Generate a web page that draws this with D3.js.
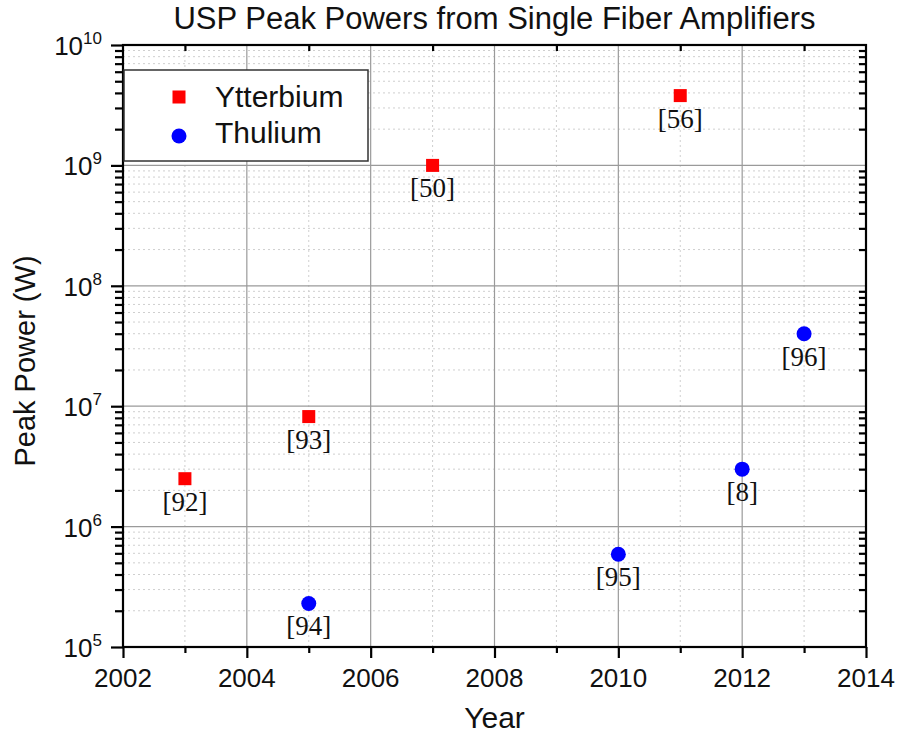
<!DOCTYPE html>
<html>
<head>
<meta charset="utf-8">
<script src="https://cdn.jsdelivr.net/npm/d3@7"></script>
<style>
  body { margin: 0; background: #fff; }
  text { font-family: "Liberation Sans", Arial, sans-serif; fill: #111; }
  .ref { font-family: "Liberation Serif", "Times New Roman", serif; }
</style>
</head>
<body>
<div id="chart"></div>
<script>
var width = 898,
  height = 734;

// data
var ybYears = [2003, 2005, 2007, 2011];
var ybPower = [2.5e6, 8.2e6, 1.0e9, 3.8e9];
var ybRefs = ["[92]", "[93]", "[50]", "[56]"];

var tmYears = [2005, 2010, 2012, 2013];
var tmPower = [2.3e5, 5.9e5, 3.0e6, 4.0e7];
var tmRefs = ["[94]", "[95]", "[8]", "[96]"];

var xTicks = [2002, 2004, 2006, 2008, 2010, 2012, 2014];
var yExps = [5, 6, 7, 8, 9, 10];

// plot box (top/left are window props, so other names)
var pL = 123, pR = 866, pT = 45, pB = 647;

var x = d3.scaleLinear().domain([2002, 2014]).range([pL, pR]);
var y = d3.scaleLog().domain([1e5, 1e10]).range([pB, pT]);

var svg = d3.select("#chart")
  .append("svg")
  .attr("width", width)
  .attr("height", height);

// minor values
var xMinor = d3.range(2003, 2014, 2);
var yMinor = [];
yExps.slice(0, -1).forEach(function (e) {
  for (var m = 2; m < 10; m++) yMinor.push(m * Math.pow(10, e));
});
var yMajor = yExps.map(function (e) { return Math.pow(10, e); });

// grid
var grid = svg.append("g");
grid.selectAll(".gxm").data(xMinor).enter().append("line")
  .attr("x1", x).attr("x2", x).attr("y1", pT).attr("y2", pB)
  .attr("stroke", "#cfcfcf").attr("stroke-width", 1).attr("stroke-dasharray", "2,3");
grid.selectAll(".gym").data(yMinor).enter().append("line")
  .attr("x1", pL).attr("x2", pR).attr("y1", y).attr("y2", y)
  .attr("stroke", "#cfcfcf").attr("stroke-width", 1).attr("stroke-dasharray", "2,3");
grid.selectAll(".gx").data(xTicks.slice(1, -1)).enter().append("line")
  .attr("x1", x).attr("x2", x).attr("y1", pT).attr("y2", pB)
  .attr("stroke", "#9a9a9a").attr("stroke-width", 1.2);
grid.selectAll(".gy").data(yMajor.slice(1, -1)).enter().append("line")
  .attr("x1", pL).attr("x2", pR).attr("y1", y).attr("y2", y)
  .attr("stroke", "#9a9a9a").attr("stroke-width", 1.2);

// axes with d3 axis generators
var bottomAxis = svg.append("g")
  .attr("transform", "translate(0," + pB + ")")
  .call(d3.axisBottom(x).tickValues(xTicks).tickSize(11).tickFormat(""));
bottomAxis.append("g")
  .call(d3.axisBottom(x).tickValues(xMinor).tickSize(6).tickFormat(""));

var leftAxis = svg.append("g")
  .attr("transform", "translate(" + pL + ",0)")
  .call(d3.axisLeft(y).tickValues(yMajor).tickSize(12).tickFormat(""));
leftAxis.append("g")
  .call(d3.axisLeft(y).tickValues(yMinor).tickSize(8).tickFormat(""));

svg.append("g")
  .attr("transform", "translate(0," + pT + ")")
  .call(d3.axisBottom(x).tickValues(xMinor).tickSize(6).tickFormat(""));
svg.append("g")
  .attr("transform", "translate(" + pR + ",0)")
  .call(d3.axisLeft(y).tickValues(yMinor).tickSize(7).tickFormat(""));

svg.selectAll(".domain").remove();
svg.selectAll(".tick line").attr("stroke", "#000").attr("stroke-width", 2.2);

// frame
svg.append("rect")
  .attr("x", pL).attr("y", pT)
  .attr("width", pR - pL).attr("height", pB - pT)
  .attr("fill", "none").attr("stroke", "#000").attr("stroke-width", 2.2);

// tick labels
svg.selectAll(".xl").data(xTicks).enter().append("text")
  .attr("x", x).attr("y", pB + 40)
  .attr("text-anchor", "middle")
  .style("font-size", "26px")
  .text(function (d) { return d; });

var yl = svg.selectAll(".yl").data(yExps).enter().append("text")
  .attr("x", pL - 21)
  .attr("y", function (d) { return y(Math.pow(10, d)) + 10; })
  .attr("text-anchor", "end")
  .style("font-size", "26px");
yl.append("tspan").text("10");
yl.append("tspan").attr("dy", -11).style("font-size", "17px")
  .text(function (d) { return d; });

// titles
svg.append("text")
  .attr("x", (pL + pR) / 2).attr("y", 29)
  .attr("text-anchor", "middle")
  .style("font-size", "31px")
  .text("USP Peak Powers from Single Fiber Amplifiers");

svg.append("text")
  .attr("x", (pL + pR) / 2).attr("y", 728)
  .attr("text-anchor", "middle")
  .style("font-size", "30px")
  .text("Year");

svg.append("text")
  .attr("transform", "translate(35,361) rotate(-90)")
  .attr("text-anchor", "middle")
  .style("font-size", "29px")
  .text("Peak Power (W)");

// points
var yb = ybYears.map(function (d, i) { return { x: d, y: ybPower[i], r: ybRefs[i] }; });
var tm = tmYears.map(function (d, i) { return { x: d, y: tmPower[i], r: tmRefs[i] }; });

svg.selectAll(".yb").data(yb).enter().append("rect")
  .attr("x", function (d) { return x(d.x) - 6.5; })
  .attr("y", function (d) { return y(d.y) - 6.5; })
  .attr("width", 13).attr("height", 13)
  .attr("fill", "#f00");

svg.selectAll(".tm").data(tm).enter().append("circle")
  .attr("cx", function (d) { return x(d.x); })
  .attr("cy", function (d) { return y(d.y); })
  .attr("r", 7.5)
  .attr("fill", "#00f");

svg.selectAll(".lab").data(yb.concat(tm)).enter().append("text")
  .attr("class", "ref")
  .attr("x", function (d) { return x(d.x); })
  .attr("y", function (d) { return y(d.y) + 32; })
  .attr("text-anchor", "middle")
  .style("font-size", "27px")
  .text(function (d) { return d.r; });

// legend
var lg = svg.append("g");
lg.append("rect")
  .attr("x", 124).attr("y", 70).attr("width", 244).attr("height", 91)
  .attr("fill", "#fff").attr("stroke", "#333").attr("stroke-width", 1.5);
lg.append("rect")
  .attr("x", 172.5).attr("y", 90.5).attr("width", 13).attr("height", 13)
  .attr("fill", "#f00");
lg.append("circle")
  .attr("cx", 179).attr("cy", 136).attr("r", 7.5)
  .attr("fill", "#00f");
lg.append("text").attr("x", 215).attr("y", 107)
  .style("font-size", "30px").text("Ytterbium");
lg.append("text").attr("x", 215).attr("y", 143)
  .style("font-size", "30px").text("Thulium");
</script>
</body>
</html>
